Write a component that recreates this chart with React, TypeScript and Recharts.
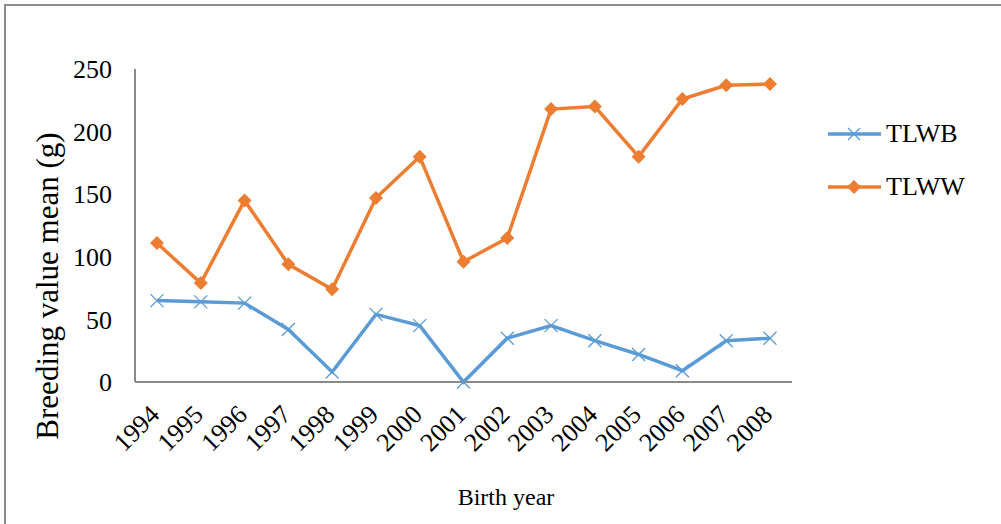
import { LineChart, Line, XAxis, YAxis, Legend } from "recharts"

const years = ["1994", "1995", "1996", "1997", "1998", "1999", "2000", "2001", "2002", "2003", "2004", "2005", "2006", "2007", "2008"]
const tlwb = [65, 64, 63, 42, 8, 54, 45, 0, 35, 45, 33, 22, 9, 33, 35]
const tlww = [111, 79, 145, 94, 74, 147, 180, 96, 115, 218, 220, 180, 226, 237, 238]
const yTicks = [0, 50, 100, 150, 200, 250]

const data = years.map((year, i) => ({ year, TLWB: tlwb[i], TLWW: tlww[i] }))

const FONT = '"Liberation Serif", "Times New Roman", serif'
const BLUE = "#5B9BD5"
const ORANGE = "#ED7D31"
const AXIS = "#898989"

const CrossDot = (props: any) => {
  const { cx, cy } = props
  if (cx == null || cy == null) return null
  const s = 6.5
  return (
    <path
      d={`M${cx - s},${cy - s}L${cx + s},${cy + s}M${cx - s},${cy + s}L${cx + s},${cy - s}`}
      stroke={BLUE}
      strokeWidth={1.3}
      fill="none"
    />
  )
}

const DiamondDot = (props: any) => {
  const { cx, cy } = props
  if (cx == null || cy == null) return null
  const s = 7
  return <path d={`M${cx},${cy - s}L${cx + s},${cy}L${cx},${cy + s}L${cx - s},${cy}Z`} fill={ORANGE} />
}

// rotated year labels, end of baseline sits just right of the tick
const YearTick = (props: any) => {
  const { x, payload } = props
  return (
    <g transform={`translate(${x + 4},${416})`}>
      <text transform="rotate(-45)" textAnchor="end" fontSize={26} fontFamily={FONT} fill="#000">
        {payload.value}
      </text>
    </g>
  )
}

const YLabel = () => (
  <text
    transform="translate(58,286) rotate(-90)"
    textAnchor="middle"
    fontSize={31}
    fontFamily={FONT}
    fill="#000"
  >
    Breeding value mean (g)
  </text>
)

const XLabel = () => (
  <text x={506} y={505} textAnchor="middle" fontSize={24} fontFamily={FONT} fill="#000">
    Birth year
  </text>
)

const LegendBox = (props: any) => {
  const { payload } = props
  return (
    <div>
      {payload.map((entry: any) => {
        const isB = entry.value === "TLWB"
        const color = isB ? BLUE : ORANGE
        return (
          <div key={entry.value} style={{ display: "flex", alignItems: "center", height: 53 }}>
            <svg width={58} height={20}>
              <line x1={2} y1={10} x2={55} y2={10} stroke={color} strokeWidth={3.5} />
              {isB ? (
                <path d="M22,4L34,16M22,16L34,4" stroke={BLUE} strokeWidth={1.3} />
              ) : (
                <path d="M28,3L35,10L28,17L21,10Z" fill={ORANGE} />
              )}
            </svg>
            <span style={{ fontFamily: FONT, fontSize: 26, color: "#000", marginLeft: 2 }}>{entry.value}</span>
          </div>
        )
      })}
    </div>
  )
}

export default function App() {
  return (
    <div style={{ position: "absolute", left: 0, top: 0, width: 1001, height: 524, background: "#fff" }}>
      <div
        style={{
          position: "absolute",
          left: 4,
          top: 4,
          width: 997,
          height: 520,
          borderLeft: "2px solid #8c8c8c",
          borderTop: "2px solid #8c8c8c",
        }}
      />
      <div style={{ position: "absolute", left: 0, top: 0 }}>
        <LineChart width={1001} height={524} data={data} margin={{ top: 69, right: 209, left: 0, bottom: 0 }}>
          <XAxis
            dataKey="year"
            height={142}
            padding={{ left: 22, right: 22 }}
            axisLine={{ stroke: AXIS, strokeWidth: 2 }}
            tickLine={false}
            tick={<YearTick />}
            interval={0}
            label={<XLabel />}
          />
          <YAxis
            width={135}
            domain={[0, 250]}
            ticks={yTicks}
            axisLine={{ stroke: AXIS, strokeWidth: 2 }}
            tickLine={false}
            tickMargin={17}
            tick={{ fontSize: 26, fontFamily: FONT, fill: "#000" }}
            label={<YLabel />}
          />
          <Legend
            layout="vertical"
            align="center"
            verticalAlign="middle"
            content={<LegendBox />}
            wrapperStyle={{ left: 826, top: 107, width: 170 }}
          />
          <Line
            type="linear"
            dataKey="TLWB"
            stroke={BLUE}
            strokeWidth={3.5}
            dot={<CrossDot />}
            activeDot={false}
            isAnimationActive={false}
          />
          <Line
            type="linear"
            dataKey="TLWW"
            stroke={ORANGE}
            strokeWidth={3.5}
            dot={<DiamondDot />}
            activeDot={false}
            isAnimationActive={false}
          />
        </LineChart>
      </div>
    </div>
  )
}
